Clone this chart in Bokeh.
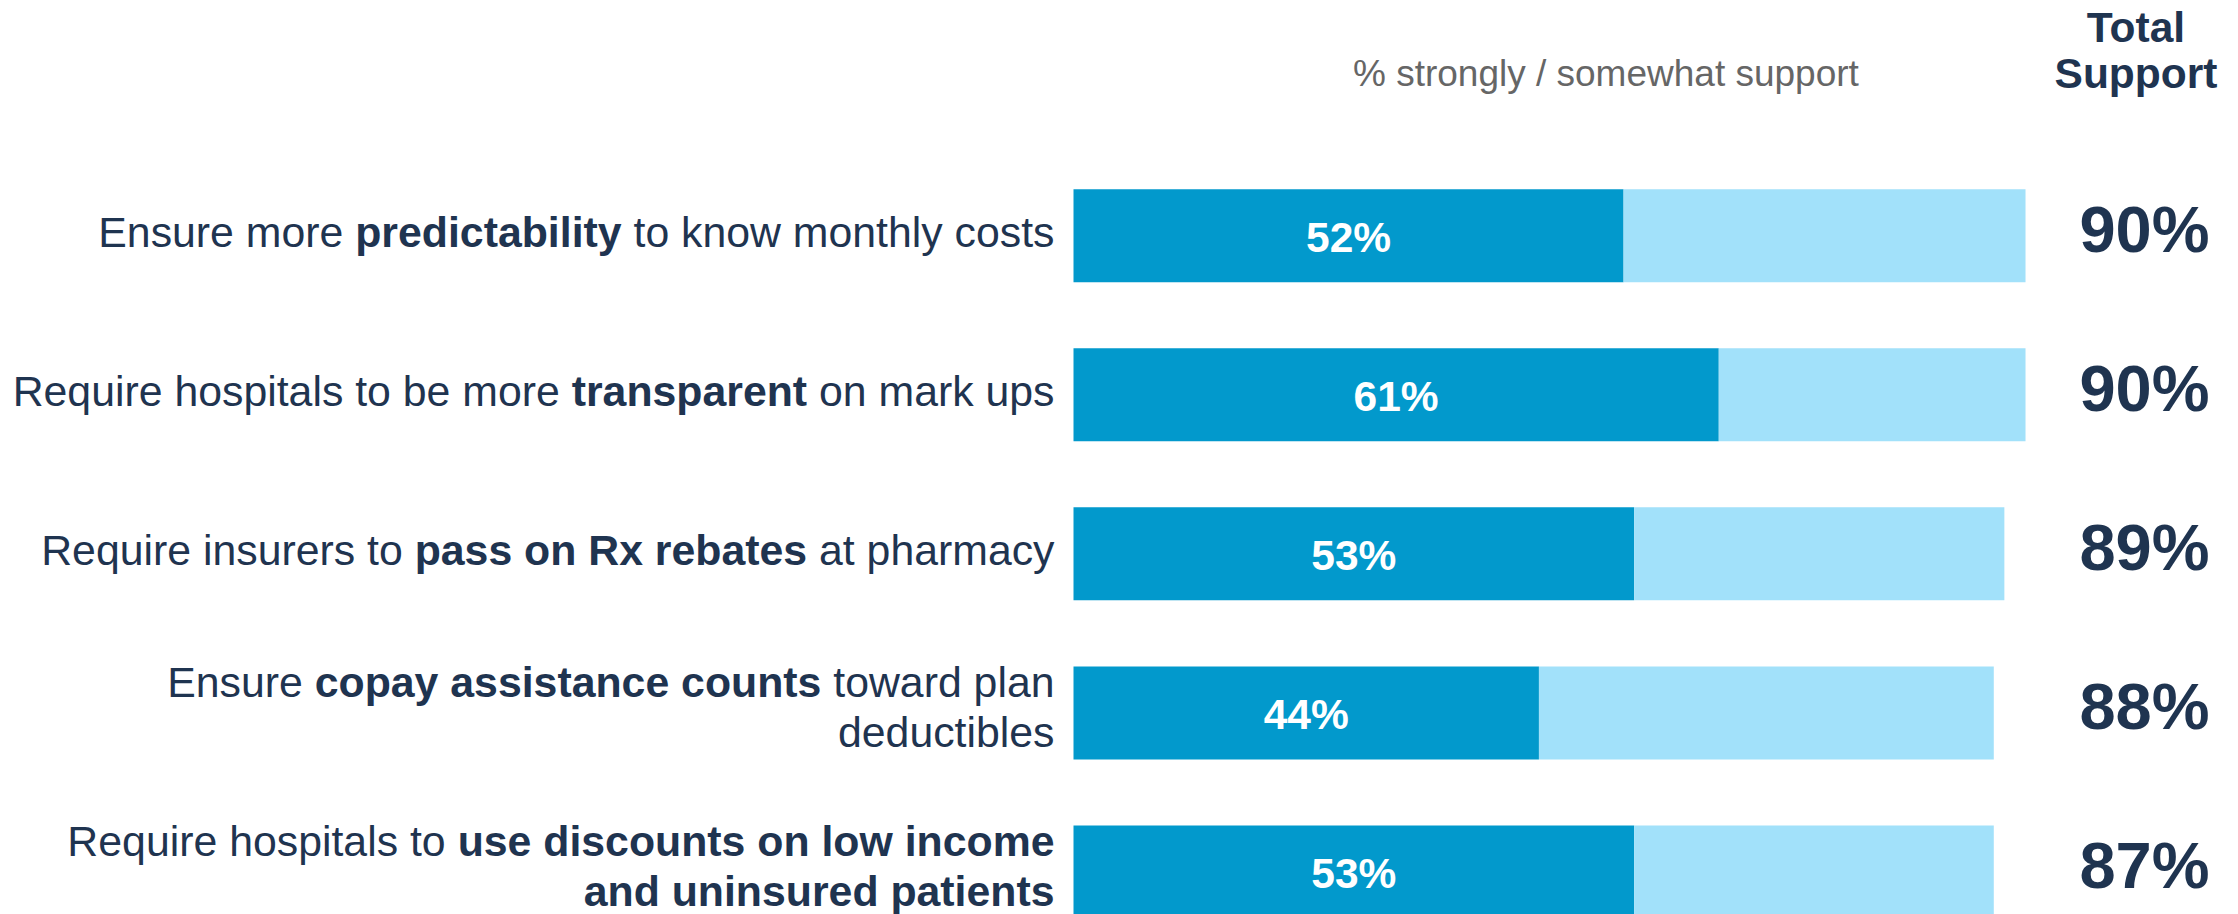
from bokeh.plotting import figure
from bokeh.models import Range1d, ColumnDataSource
from bokeh.embed import file_html
from bokeh.resources import INLINE
from bokeh.core.properties import value

# ---------------- data ----------------
categories = [
    "Ensure more **predictability** to know monthly costs",
    "Require hospitals to be more **transparent** on mark ups",
    "Require insurers to **pass on Rx rebates** at pharmacy",
    "Ensure **copay assistance counts** toward plan\ndeductibles",
    "Require hospitals to **use discounts on low income\nand uninsured patients**",
]
strongly = [52, 61, 53, 44, 53]
somewhat = [38, 29, 35, 43, 34]
total_support = [90, 90, 89, 88, 87]
subtitle = "% strongly / somewhat support"
header = ["Total", "Support"]

# ---------------- style / layout ----------------
W, H = 2238, 914
K = 10.578          # px per percentage point
X0PX = 1073.0       # px of the 0% line
ROW0 = 235.2        # px of first bar centre (from top)
ROWSTEP = 159.07
BAR_PX = 93.0
FONT = "Liberation Sans"
NAVY = "#1f3450"
GRAY = "#666666"
DARK = "#0299cc"
LIGHT = "#a2e1fa"
LBL_SIZE = 42.5
CAT_SIZE = 42.8
TOT_SIZE = 65
SUB_SIZE = 37
LABEL_RIGHT_PX = 1054.0

REG = dict(zip(" !%/0123456789", [278, 278, 889, 278] + [556] * 10))
REG.update(dict(zip("ABCDEFGHIJKLMNOPQRSTUVWXYZ",
                    [667, 667, 722, 722, 667, 611, 778, 722, 278, 500, 667, 556, 833,
                     722, 778, 667, 778, 722, 667, 611, 722, 667, 944, 667, 667, 611])))
REG.update(dict(zip("abcdefghijklmnopqrstuvwxyz",
                    [556, 556, 500, 556, 556, 278, 556, 556, 222, 222, 500, 222, 833,
                     556, 556, 556, 556, 333, 500, 278, 556, 500, 722, 500, 500, 500])))
BOLD = dict(zip(" !%/0123456789", [278, 333, 889, 278] + [556] * 10))
BOLD.update(dict(zip("ABCDEFGHIJKLMNOPQRSTUVWXYZ",
                     [722, 722, 722, 722, 667, 611, 778, 722, 278, 556, 722, 611, 833,
                      722, 778, 667, 778, 722, 667, 611, 722, 667, 944, 667, 667, 611])))
BOLD.update(dict(zip("abcdefghijklmnopqrstuvwxyz",
                     [556, 611, 556, 611, 556, 333, 611, 611, 278, 278, 556, 278, 889,
                      611, 611, 611, 611, 389, 556, 333, 611, 556, 778, 556, 556, 500])))


def tw(s, bold, size):
    tab = BOLD if bold else REG
    return sum(tab.get(c, 556) for c in s) * size / 1000.0


def xd(px):
    return (px - X0PX) / K


def yd(py):
    return (py - ROW0) / ROWSTEP


p = figure(width=W, height=H, output_backend="svg", toolbar_location=None,
           x_axis_type=None, y_axis_type=None, min_border=0,
           x_range=Range1d(xd(0), xd(W)), y_range=Range1d(yd(H), yd(0)))
p.outline_line_color = None
p.background_fill_color = "white"
p.border_fill_color = "white"
p.xgrid.visible = False
p.ygrid.visible = False

rows = list(range(len(categories)))
bar_h = BAR_PX / ROWSTEP
right_total = [a + b for a, b in zip(strongly, somewhat)]
src = ColumnDataSource(dict(y=rows, s=strongly, t=right_total,
                            mid=[v / 2 for v in strongly],
                            lab=[f"{v}%" for v in strongly],
                            tot=[f"{v}%" for v in total_support]))
p.hbar(y="y", left=0, right="s", height=bar_h, source=src,
       fill_color=DARK, line_color=None)
p.hbar(y="y", left="s", right="t", height=bar_h, source=src,
       fill_color=LIGHT, line_color=None)

# labels inside dark bars
lab_y = [yd(ROW0 + ROWSTEP * i + 1.5) for i in rows]
src_lab = ColumnDataSource(dict(x=src.data["mid"], y=lab_y, text=src.data["lab"]))
p.text(x="x", y="y", text="text", source=src_lab, text_color="white",
       text_font=value(FONT), text_font_style="bold", text_font_size=f"{LBL_SIZE}px",
       text_align="center", text_baseline="middle")

# totals
tot_y = [yd(ROW0 + ROWSTEP * i - 6) for i in rows]
src_tot = ColumnDataSource(dict(x=[xd(2144)] * len(rows), y=tot_y, text=src.data["tot"]))
p.text(x="x", y="y", text="text", source=src_tot, text_color=NAVY,
       text_font=value(FONT), text_font_style="bold", text_font_size=f"{TOT_SIZE}px",
       text_align="center", text_baseline="middle")

# category labels with mixed bold runs
reg_seg = dict(x=[], y=[], text=[])
bold_seg = dict(x=[], y=[], text=[])
for i, cat in enumerate(categories):
    chars = []
    bold = False
    j = 0
    while j < len(cat):
        if cat[j:j + 2] == "**":
            bold = not bold
            j += 2
            continue
        chars.append((cat[j], bold))
        j += 1
    lines = [[]]
    for c, b in chars:
        if c == "\n":
            lines.append([])
        else:
            lines[-1].append((c, b))
    c_px = ROW0 + ROWSTEP * i
    mids = [c_px - 3.5] if len(lines) == 1 else [c_px - 31, c_px + 19.5]
    for line, mid in zip(lines, mids):
        runs = []
        for c, b in line:
            if runs and runs[-1][1] == b:
                runs[-1][0] += c
            else:
                runs.append([c, b])
        cur = LABEL_RIGHT_PX
        for text, b in reversed(runs):
            rs = text.rstrip()
            cur -= tw(text[len(rs):], b, CAT_SIZE)
            core = rs.lstrip()
            if core:
                seg = bold_seg if b else reg_seg
                seg["x"].append(xd(cur))
                seg["y"].append(yd(mid))
                seg["text"].append(core)
            cur -= tw(rs, b, CAT_SIZE)

p.text(x="x", y="y", text="text", source=ColumnDataSource(reg_seg), text_color=NAVY,
       text_font=value(FONT), text_font_size=f"{CAT_SIZE}px",
       text_align="right", text_baseline="middle")
p.text(x="x", y="y", text="text", source=ColumnDataSource(bold_seg), text_color=NAVY,
       text_font=value(FONT), text_font_style="bold", text_font_size=f"{CAT_SIZE}px",
       text_align="right", text_baseline="middle")

# header texts
p.text(x=[xd(2135.5)] * 2, y=[yd(26.7), yd(72.8)], text=header, text_color=NAVY,
       text_font=value(FONT), text_font_style="bold", text_font_size=f"{LBL_SIZE}px",
       text_align="center", text_baseline="middle")
p.text(x=[xd(1605.4)], y=[yd(73)], text=[subtitle], text_color=GRAY,
       text_font=value(FONT), text_font_size=f"{SUB_SIZE}px",
       text_align="center", text_baseline="middle")

open("out.html", "w").write(file_html(p, INLINE))
